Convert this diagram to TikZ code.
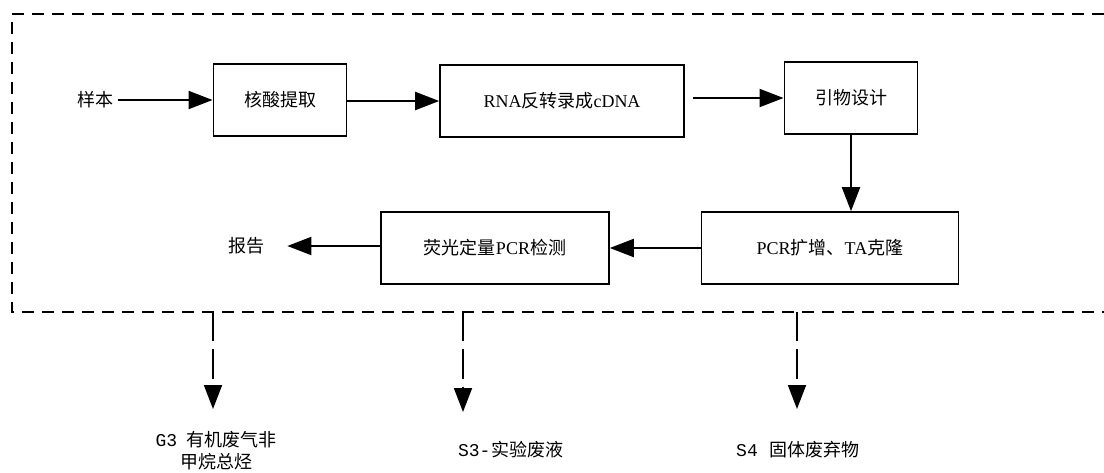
\documentclass[tikz,border=0pt]{standalone}
\usepackage{fontspec}
\setmainfont{Liberation Serif}
\setmonofont{Liberation Mono}
\newfontfamily\cjk{Noto Sans CJK SC}
\usetikzlibrary{
		arrows.meta,
		positioning
	}
\tikzset{
		>={Triangle[length=18pt,width=13.5pt]},
		stepbox/.style={draw,line width=1.2pt,minimum height=54pt,font=\fontsize{13.5}{16}\selectfont},
		flow/.style={->,line width=1.5pt},
		leak/.style={->,line width=1.4pt,dash pattern=on 22pt off 6pt},
		frame/.style={line width=1.3pt,dash pattern=on 9pt off 6pt},
		waste/.style={align=center,font=\fontsize{13.5}{16.5}\selectfont}
	}

\begin{document}
\begin{tikzpicture}[x=0.75pt, y=-0.75pt] % 1 unit = 1 px of the 1104x472 sheet
		\useasboundingbox (0,0) rectangle (1104,472);
		\draw[frame] (1104,14) -- (12,14) -- (12,312) -- (1104,312);
		% upper row
		\node (sample) at (95,100) {\fontsize{13.5}{16}\selectfont\cjk 样本};
		\node[stepbox, minimum width=100pt] (extract) at (280,100) {\cjk 核酸提取};
		\node[stepbox, minimum width=183pt] (rt) at (562,101) {RNA{\cjk 反转录成}cDNA};
		\node[stepbox, minimum width=100pt] (primer) at (851,98) {\cjk 引物设计};
		% lower row
		\node[stepbox, minimum width=193pt] (pcr) at (830,248) {PCR{\cjk 扩增、}TA{\cjk 克隆}};
		\node[stepbox, minimum width=171pt] (qpcr) at (495,248) {{\cjk 荧光定量}PCR{\cjk 检测}};
		\node (report) at (246,246) {\fontsize{13.5}{16}\selectfont\cjk 报告};
		\draw[flow] (sample) -- (extract);
		\draw[flow] (extract.east |- rt) -- (rt);
		\draw[flow, shorten <=6pt] (rt.east |- primer) -- (primer);
		\draw[flow] (primer) -- (primer |- pcr.north);
		\draw[flow] (pcr) -- (qpcr);
		\draw[flow, shorten >=14pt] (qpcr.west |- report) -- (report);
		% wastes
		\node[waste] (g3) at (216,451) {{\ttfamily G3}\hspace{7pt}{\cjk 有机废气非}\\{\cjk 甲烷总烃}};
		\node[waste] (s3) at (511,450) {{\ttfamily S3-}\hspace{1pt}{\cjk 实验废液}};
		\node[waste] (s4) at (798,450) {{\ttfamily S4}\hspace{9pt}{\cjk 固体废弃物}};
		\foreach \w/\x/\y in {g3/213/409, s3/463/412, s4/797/409}{
			\coordinate (\w top) at (\x,312);
			\coordinate (\w end) at (\x,\y);
			\draw[leak] (\w top) -- (\w end);
		}
	\end{tikzpicture}
\end{document}
